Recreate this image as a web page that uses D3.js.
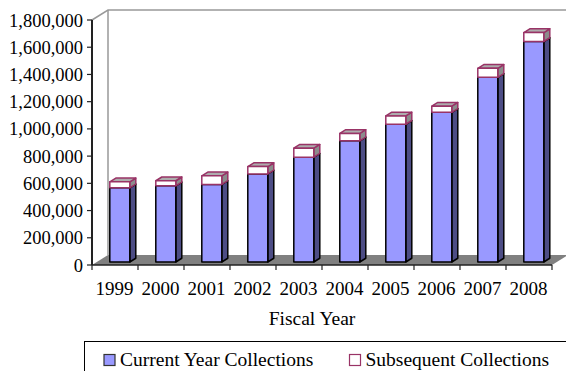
<!DOCTYPE html>
<html>
<head>
<meta charset="utf-8">
<script src="https://cdn.jsdelivr.net/npm/d3@7"></script>
<style>
  html, body { margin: 0; padding: 0; background: #fff; }
  svg { display: block; }
</style>
</head>
<body>
<svg id="chart" width="566" height="371"></svg>
<script>
// Collections by fiscal year
const years = ["1999", "2000", "2001", "2002", "2003", "2004", "2005", "2006", "2007", "2008"];
const currentYear = [545000, 560000, 570000, 647000, 770000, 890000, 1012000, 1100000, 1357000, 1620000];
const subsequent = [44000, 37000, 63000, 54000, 66000, 55000, 61000, 45000, 66000, 66000];
const yTicks = [0, 200000, 400000, 600000, 800000, 1000000, 1200000, 1400000, 1600000, 1800000];
const seriesNames = ["Current Year Collections", "Subsequent Collections"];

const svg = d3.select("#chart")
  .attr("font-family", "'Liberation Serif', 'Times New Roman', Times, 'DejaVu Serif', serif");

// plot frame (front plane) and oblique depth vector
const plotLeft = 92, plotRight = 552, plotBottom = 265, plotTop = 20;
const depth = { dx: 16, dy: -10 };
const barFront = 0.3, barBack = 0.675;

const x = d3.scaleBand().domain(years).range([plotLeft, plotRight]).paddingInner(0).paddingOuter(0);
const y = d3.scaleLinear().domain([0, 1800000]).range([plotBottom, plotTop]);
const barW = 20;

// point on a depth plane
const P = (px, py, d) => [px + depth.dx * d, py + depth.dy * d];
const poly = pts => pts.map(p => p.join(",")).join(" ");

// floor and walls
svg.append("polygon")
  .attr("points", poly([P(plotLeft, plotBottom, 0), P(plotRight, plotBottom, 0), P(plotRight, plotBottom, 1), P(plotLeft, plotBottom, 1)]))
  .attr("fill", "#808080");
const wall = svg.append("g").attr("stroke", "#999").attr("stroke-width", 1.5).attr("fill", "none");
wall.append("polyline")
  .attr("points", poly([P(plotLeft, plotTop, 0), P(plotLeft, plotTop, 1), P(plotRight, plotTop, 1)]));
wall.append("line")
  .attr("x1", P(plotLeft, plotBottom, 1)[0]).attr("y1", P(plotLeft, plotBottom, 1)[1])
  .attr("x2", P(plotLeft, plotTop, 1)[0]).attr("y2", P(plotLeft, plotTop, 1)[1]);

// stacked 3D bars
const series = [
  { values: currentYear, front: "#9999FF", side: "#4D4D85", topc: "#7777CC", stroke: "#000" },
  { values: subsequent, front: "#FFFFFF", side: "#8C8C8C", topc: "#ADADAD", stroke: "#993366" }
];

const bars = svg.append("g");
years.forEach((yr, i) => {
  const cx = x(yr) + x.bandwidth() / 2;
  let base = 0;
  series.forEach(s => {
    const v = s.values[i];
    const y0 = y(base), y1 = y(base + v);
    const x0 = cx - barW / 2, x1 = cx + barW / 2;
    const g = bars.append("g")
      .attr("stroke", s.stroke).attr("stroke-width", 1.5).attr("stroke-linejoin", "round");
    g.append("polygon")
      .attr("points", poly([P(x1, y0, barFront), P(x1, y0, barBack), P(x1, y1, barBack), P(x1, y1, barFront)]))
      .attr("fill", s.side);
    g.append("polygon")
      .attr("points", poly([P(x0, y1, barFront), P(x1, y1, barFront), P(x1, y1, barBack), P(x0, y1, barBack)]))
      .attr("fill", s.topc);
    g.append("polygon")
      .attr("points", poly([P(x0, y0, barFront), P(x1, y0, barFront), P(x1, y1, barFront), P(x0, y1, barFront)]))
      .attr("fill", s.front);
    base += v;
  });
});

// value axis
const fmt = d3.format(",");
const yAxis = svg.append("g");
yAxis.append("line")
  .attr("x1", plotLeft).attr("x2", plotLeft).attr("y1", plotTop).attr("y2", plotBottom)
  .attr("stroke", "#222").attr("stroke-width", 2);
yTicks.forEach(t => {
  yAxis.append("line")
    .attr("x1", plotLeft - 5).attr("x2", plotLeft).attr("y1", y(t)).attr("y2", y(t))
    .attr("stroke", "#222").attr("stroke-width", 1.2);
  yAxis.append("text")
    .attr("x", plotLeft - 9).attr("y", y(t) + 6.5)
    .attr("text-anchor", "end").attr("font-size", "18.5px")
    .text(fmt(t));
});

// category axis
const xAxis = svg.append("g");
xAxis.append("line")
  .attr("x1", plotLeft).attr("x2", plotRight).attr("y1", plotBottom).attr("y2", plotBottom)
  .attr("stroke", "#222").attr("stroke-width", 1.5);
d3.range(years.length + 1).forEach(i => {
  const tx = plotLeft + i * x.bandwidth();
  xAxis.append("line")
    .attr("x1", tx).attr("x2", tx).attr("y1", plotBottom).attr("y2", plotBottom + 5)
    .attr("stroke", "#222").attr("stroke-width", 1.2);
});
years.forEach(yr => {
  xAxis.append("text")
    .attr("x", x(yr) + x.bandwidth() / 2 - 0.5).attr("y", 295)
    .attr("text-anchor", "middle").attr("font-size", "19px")
    .text(yr);
});

svg.append("text")
  .attr("x", 312).attr("y", 325)
  .attr("text-anchor", "middle").attr("font-size", "19.5px")
  .text("Fiscal Year");

// legend
const legend = svg.append("g");
legend.append("rect")
  .attr("x", 84.5).attr("y", 341.5).attr("width", 520).attr("height", 60)
  .attr("fill", "none").attr("stroke", "#000").attr("stroke-width", 1);
const legendItems = [
  { name: seriesNames[0], sx: 104, fill: "#9999FF", stroke: "#333" },
  { name: seriesNames[1], sx: 349.5, fill: "#FFFFFF", stroke: "#993366" }
];
legendItems.forEach(it => {
  legend.append("rect")
    .attr("x", it.sx).attr("y", 354.5).attr("width", 11).attr("height", 11)
    .attr("fill", it.fill).attr("stroke", it.stroke).attr("stroke-width", 1.2);
  legend.append("text")
    .attr("x", it.sx + 16).attr("y", 366)
    .attr("font-size", "19.5px")
    .text(it.name);
});
</script>
</body>
</html>
